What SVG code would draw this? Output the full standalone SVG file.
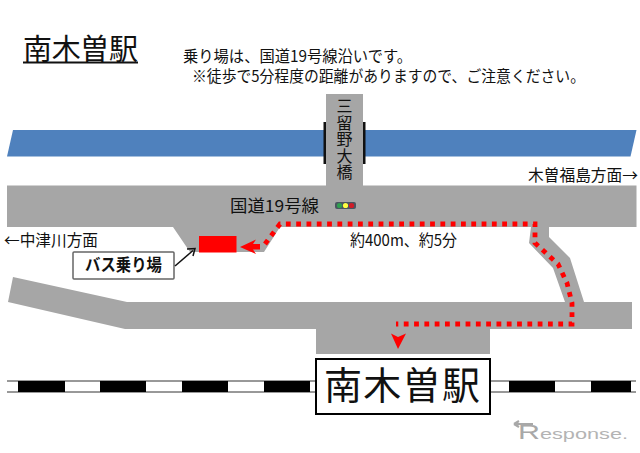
<svg xmlns="http://www.w3.org/2000/svg" width="640" height="453" viewBox="0 0 640 453">
<style>
text{font-family:"Noto Sans CJK JP","Liberation Sans",sans-serif;fill:#111}
.road{fill:#a6a6a6}
.m{font-size:15.500px}
.l{font-size:16px}
.dot{fill:none;stroke:#f00;stroke-width:4.800;stroke-dasharray:4.800 5.500}
.red{fill:#f00}
.tie{fill:#000}
</style>
<rect width="640" height="453" fill="#fff"/>
<g id="river"><polygon points="13,130 636.500,130 630.500,156.500 7,156.500" fill="#4f81bd"/></g>
<g id="roads">
<polygon class="road" points="7,185.500 636.500,185.500 636.500,227 549,227 549,237 570,258 584,302 632,302 632,329 490,329 490,354 316,354 316,329 125,329 8,302 13,277 127,302 565,302 553,268 529,243 531,227 280,227 264,252 190,252 173,227 7,227"/>
<rect class="road" x="326" y="94" width="37" height="92"/>
</g>
<g id="bridge">
<rect x="323.500" y="122" width="2.500" height="42" fill="#111"/>
<rect x="363" y="122" width="2.500" height="42" fill="#111"/>
<text x="344.500" y="98" font-size="16" letter-spacing="0.500" text-anchor="start" style="writing-mode:vertical-rl">三留野大橋</text>
</g>
<g id="track">
<line x1="7" y1="381" x2="636" y2="381" stroke="#333" stroke-width="1"/>
<line x1="7" y1="392" x2="636" y2="392" stroke="#333" stroke-width="1"/>
<rect class="tie" x="18" y="381" width="47" height="11"/>
<rect class="tie" x="100" y="381" width="46" height="11"/>
<rect class="tie" x="182" y="381" width="46" height="11"/>
<rect class="tie" x="264" y="381" width="46" height="11"/>
<rect class="tie" x="509" y="381" width="46" height="11"/>
<rect class="tie" x="591" y="381" width="40" height="11"/>
</g>
<g id="station">
<rect x="316" y="359" width="174" height="55" fill="#fff" stroke="#000" stroke-width="2"/>
<text x="324" y="399" font-size="38" textLength="156" lengthAdjust="spacing">南木曽駅</text>
</g>
<g id="title">
<text x="23" y="60" font-size="29" textLength="115" lengthAdjust="spacing">南木曽駅</text>
<line x1="23" y1="62.500" x2="138" y2="62.500" stroke="#111" stroke-width="2"/>
</g>
<g id="notes">
<text class="m" x="183" y="62" textLength="229" lengthAdjust="spacingAndGlyphs">乗り場は、国道19号線沿いです。</text>
<text class="m" x="192" y="82" textLength="393" lengthAdjust="spacingAndGlyphs">※徒歩で5分程度の距離がありますので、ご注意ください。</text>
</g>
<g id="labels">
<text x="230" y="212" font-size="16.500" textLength="89" lengthAdjust="spacingAndGlyphs">国道19号線</text>
<text class="l" x="4" y="246" textLength="94" lengthAdjust="spacingAndGlyphs">←中津川方面</text>
<text class="l" x="528" y="181" textLength="110" lengthAdjust="spacingAndGlyphs">木曽福島方面→</text>
<text class="l" x="350" y="246" textLength="107" lengthAdjust="spacingAndGlyphs">約400m、約5分</text>
</g>
<g id="signal">
<rect x="335" y="202" width="21" height="7" rx="2" fill="#4a5560"/>
<circle cx="339.500" cy="205.500" r="2.600" fill="#2f9e4f"/>
<circle cx="345.500" cy="205.500" r="2.600" fill="#ffff40"/>
<circle cx="351.500" cy="205.500" r="2.600" fill="#d01c28"/>
</g>
<g id="bus-stop">
<rect class="red" x="199" y="236" width="37.500" height="16.500"/>
</g>
<g id="bus-label">
<rect x="73" y="252" width="101" height="27" rx="1" fill="#fff" stroke="#666" stroke-width="1.500"/>
<text x="85" y="271" font-size="16.500" font-weight="700" textLength="77" lengthAdjust="spacingAndGlyphs">バス乗り場</text>
</g>
<g id="connectors">
<path d="M175,266 L193,250.500" stroke="#111" stroke-width="1.500" fill="none"/>
<path d="M187,249 L195,248.500 L193,256" stroke="#111" stroke-width="1.500" fill="none"/>
<path class="dot" d="M265,244 L280,224 L535,224 L535,243 L558,264 L567,283 L572,303 L572,324 L396,324"/>
<polygon class="red" points="240,247 256,239.500 253,244 260,244 260,249.500 253,249.500 256,254"/>
<polygon class="red" points="398,349 391,333.500 398,337 406,333.500"/>
</g>
<g id="logo">
<path d="M514,424 L533,424 M514,424 L519,421 M514,424 L519,427" fill="none" stroke="#a8a8a8" stroke-width="2.200"/>
<text x="518" y="439" textLength="110" lengthAdjust="spacingAndGlyphs" style="font-family:'Liberation Sans',sans-serif;font-size:15px;fill:#b4b4b4"><tspan font-size="21" fill="#a8a8a8">R</tspan>esponse.</text>
</g>
</svg>
